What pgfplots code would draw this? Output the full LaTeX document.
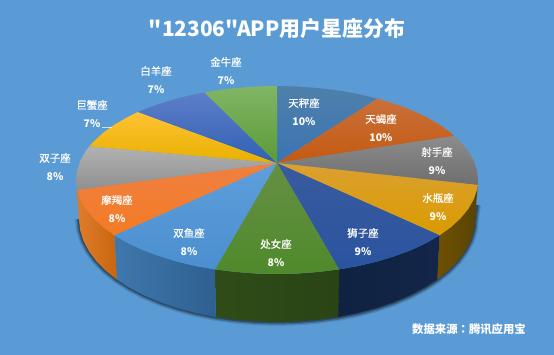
\documentclass[border=0pt]{standalone}
\usepackage{pgfplots}
\pgfplotsset{compat=1.18}
\usepackage{pgfplotstable}
\usepackage{fontspec}
\setmainfont{Noto Sans CJK SC}
\newfontfamily\cjk{Noto Sans CJK SC}
\newfontfamily\cjkm{Noto Sans CJK SC}[FakeBold=0.35]
\newfontfamily\cjktc{Noto Sans CJK TC}
\definecolor{bg}{HTML}{5B9BD5}
\definecolor{wa1}{HTML}{6E5004}\definecolor{wa2}{HTML}{5A4400}
\definecolor{wb1}{HTML}{0F2240}\definecolor{wb2}{HTML}{13264A}
\definecolor{wc1}{HTML}{2F4C18}\definecolor{wc2}{HTML}{2A4415}
\definecolor{wd1}{HTML}{3F78AD}\definecolor{wd2}{HTML}{2E6090}
\definecolor{we1}{HTML}{DE7C2B}\definecolor{we2}{HTML}{C8660F}
\definecolor{t1a}{HTML}{4F80AA}\definecolor{t1b}{HTML}{3A74B4}
\definecolor{t2a}{HTML}{C9703A}\definecolor{t2b}{HTML}{C55A11}
\definecolor{t3a}{HTML}{8C8C8C}\definecolor{t3b}{HTML}{6E6E6E}
\definecolor{t4a}{HTML}{DBA030}\definecolor{t4b}{HTML}{D99B00}
\definecolor{t5a}{HTML}{3A5A9E}\definecolor{t5b}{HTML}{2A54A0}
\definecolor{t6a}{HTML}{668F45}\definecolor{t6b}{HTML}{4F8A2B}
\definecolor{t7a}{HTML}{5E9EDB}\definecolor{t7b}{HTML}{4B8FD0}
\definecolor{t8a}{HTML}{F08040}\definecolor{t8b}{HTML}{F37B25}
\definecolor{t9a}{HTML}{B2B2B2}\definecolor{t9b}{HTML}{8F8F8F}
\definecolor{t10a}{HTML}{FFC233}\definecolor{t10b}{HTML}{E8B000}
\definecolor{t11a}{HTML}{5E7EC8}\definecolor{t11b}{HTML}{3060B4}
\definecolor{t12a}{HTML}{80B566}\definecolor{t12b}{HTML}{5B9B35}
\pgfplotstableread{
x y
477 205
475 219
473.9 229.8
470.7 240.4
465.3 250.8
457.9 260.9
448.5 270.5
437.2 279.5
424.1 287.9
409.5 295.5
393.4 302.3
376 308.2
357.5 313.1
338.2 317
318.2 319.7
297.7 321.4
277 322
256.3 321.4
235.8 319.7
215.8 317
196.5 313.1
178 308.2
160.6 302.3
144.5 295.5
129.9 287.9
116.8 279.5
105.5 270.5
96.1 260.9
88.7 250.8
83.3 240.4
80.1 229.8
79 219
}\bottomarc
\newcommand{\lab}[4]{%
  \node[text=white,font=\fontsize{10.5}{12}\selectfont\cjkm,inner sep=0pt] at (axis cs:#1,#2) {#3};
  \node[text=white,font=\fontsize{10.5}{12}\selectfont\cjk\bfseries,inner sep=0pt] at (axis cs:#1,#2+18.5) {#4};
}
\begin{document}
\begin{tikzpicture}
\begin{axis}[
  scale only axis, width=554bp, height=355bp,
  xmin=0, xmax=554, ymin=0, ymax=355, y dir=reverse,
  hide axis, clip=false
]
% background
\addplot[draw=none, fill=bg] coordinates {(0,0)(554,0)(554,355)(0,355)} -- cycle;
% soft shadow under the side wall
\addplot[draw=black, opacity=.12, line width=8bp, no marks, line join=round] table {\bottomarc};
\addplot[draw=black, opacity=.20, line width=5.5bp, no marks, line join=round] table {\bottomarc};
\addplot[draw=black, opacity=.30, line width=3bp, no marks, line join=round] table {\bottomarc};
% side walls
\addplot[draw=none, left color=wa1, right color=wa2] coordinates {(477.7,185)(476.9,189.8)(473.6,199.5)(468.2,209)(460.6,218.2)(451.1,227)(439.6,235.3)(437.2,279.5)(448.5,270.5)(457.9,260.9)(465.3,250.8)(470.7,240.4)(473.9,229.8)(475,219)} -- cycle;
\addplot[draw=none, left color=wb1, right color=wb2] coordinates {(439.6,235.3)(426.4,242.9)(411.5,249.9)(395.1,256)(377.5,261.4)(358.7,265.9)(339.1,269.4)(338.2,317)(357.5,313.1)(376,308.2)(393.4,302.3)(409.5,295.5)(424.1,287.9)(437.2,279.5)} -- cycle;
\addplot[draw=none, left color=wc1, right color=wc2] coordinates {(339.1,269.4)(318.8,271.9)(298,273.5)(277,274)(256,273.5)(235.2,271.9)(214.9,269.4)(215.8,317)(235.8,319.7)(256.3,321.4)(277,322)(297.7,321.4)(318.2,319.7)(338.2,317)} -- cycle;
\addplot[draw=none, left color=wd1, right color=wd2] coordinates {(214.9,269.4)(195.3,265.9)(176.5,261.4)(158.9,256)(142.5,249.9)(127.6,242.9)(114.4,235.3)(116.8,279.5)(129.9,287.9)(144.5,295.5)(160.6,302.3)(178,308.2)(196.5,313.1)(215.8,317)} -- cycle;
\addplot[draw=none, left color=we1, right color=we2] coordinates {(114.4,235.3)(102.9,227)(93.4,218.2)(85.8,209)(80.4,199.5)(77.1,189.8)(79,219)(80.1,229.8)(83.3,240.4)(88.7,250.8)(96.1,260.9)(105.5,270.5)(116.8,279.5)} -- cycle;
% top faces
\addplot[draw=none, top color=t1a, bottom color=t1b] coordinates {(277,163)(277,86)(298,86.5)(318.8,88.1)(339.1,90.6)(358.7,94.1)(377.5,98.6)} -- cycle;
\addplot[draw=none, top color=t2a, bottom color=t2b] coordinates {(277,163)(377.5,98.6)(395.1,104)(411.5,110.1)(426.4,117.1)(439.6,124.7)(451.1,133)(454,136)} -- cycle;
\addplot[draw=none, top color=t3a, bottom color=t3b] coordinates {(277,163)(454,136)(460.6,141.8)(468.2,151)(473.6,160.5)(476.9,170.2)(478,180)(477.7,185)} -- cycle;
\addplot[draw=none, top color=t4a, bottom color=t4b] coordinates {(277,163)(477.7,185)(476.9,189.8)(473.6,199.5)(468.2,209)(460.6,218.2)(451.1,227)(439.6,235.3)} -- cycle;
\addplot[draw=none, top color=t5a, bottom color=t5b] coordinates {(277,163)(439.6,235.3)(426.4,242.9)(411.5,249.9)(395.1,256)(377.5,261.4)(358.7,265.9)(339.1,269.4)} -- cycle;
\addplot[draw=none, top color=t6a, bottom color=t6b] coordinates {(277,163)(339.1,269.4)(318.8,271.9)(298,273.5)(277,274)(256,273.5)(235.2,271.9)(214.9,269.4)} -- cycle;
\addplot[draw=none, top color=t7a, bottom color=t7b] coordinates {(277,163)(214.9,269.4)(195.3,265.9)(176.5,261.4)(158.9,256)(142.5,249.9)(127.6,242.9)(114.4,235.3)} -- cycle;
\addplot[draw=none, top color=t8a, bottom color=t8b] coordinates {(277,163)(114.4,235.3)(102.9,227)(93.4,218.2)(85.8,209)(80.4,199.5)(77.1,189.8)} -- cycle;
\addplot[draw=none, top color=t9a, bottom color=t9b] coordinates {(277,163)(77.1,189.8)(76,180)(77.1,170.2)(80.4,160.5)(85.8,151)(89.4,146.3)} -- cycle;
\addplot[draw=none, top color=t10a, bottom color=t10b] coordinates {(277,163)(89.4,146.3)(93.4,141.8)(102.9,133)(114.4,124.7)(127.6,117.1)(138,112)} -- cycle;
\addplot[draw=none, top color=t11a, bottom color=t11b] coordinates {(277,163)(138,112)(142.5,110.1)(158.9,104)(176.5,98.6)(195.3,94.1)(204.5,92.5)} -- cycle;
\addplot[draw=none, top color=t12a, bottom color=t12b] coordinates {(277,163)(204.5,92.5)(214.9,90.6)(235.2,88.1)(256,86.5)(277,86)} -- cycle;
% leader line
\addplot[draw=white, opacity=.7, line width=.5bp, no marks] coordinates {(102,127)(112,127)};
% labels
\lab{304}{103}{天秤座}{10\%}
\lab{381}{119}{天蝎座}{10\%}
\lab{437}{152}{射手座}{9\%}
\lab{438}{198}{水瓶座}{9\%}
\lab{363}{233}{狮子座}{9\%}
\lab{276}{244}{处女座}{8\%}
\lab{189}{233}{双鱼座}{8\%}
\lab{117}{200}{摩羯座}{8\%}
\lab{55}{158}{双子座}{8\%}
\lab{92}{105}{巨蟹座}{7\%}
\lab{156}{71}{白羊座}{7\%}
\lab{226}{62}{金牛座}{7\%}
\node[text=white,font=\fontsize{21}{24}\selectfont\cjk\bfseries,inner sep=0pt] at (axis cs:277,28) {"12306"APP用户星座分布};
\node[text=white,font=\fontsize{11.4}{13}\selectfont\cjk\bfseries,inner sep=0pt] at (axis cs:469,329) {数据来源{\cjktc\bfseries ：}腾讯应用宝};
\end{axis}
\end{tikzpicture}
\end{document}
